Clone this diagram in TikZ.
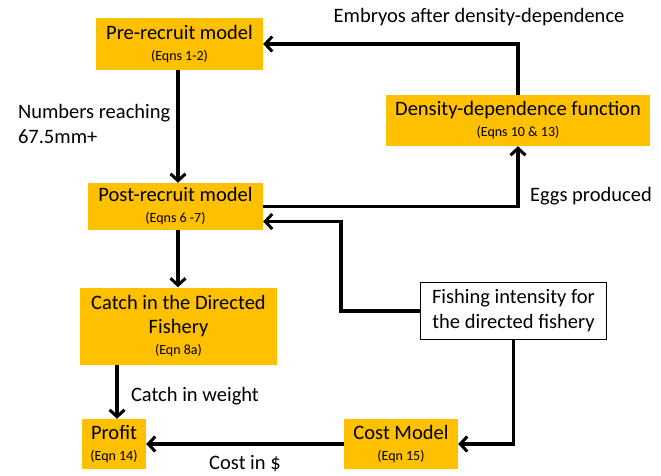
\documentclass[tikz,border=0pt]{standalone}
\usepackage{fontspec}
\setmainfont{Carlito}
\usetikzlibrary{
  arrows.meta,
  positioning,
  calc}
\definecolor{boxgold}{HTML}{FFC000}
\tikzset{every picture/.style={font issue=\fontsize{20.5}{25}},
         font issue/.style={execute at begin picture={#1\selectfont}}
        }
\tikzset{model/.style={fill=boxgold, align=center, inner sep=0pt},
         inputbox/.style={draw, fill=white, line width=0.8pt, align=center, inner sep=0pt},
         flow/.style={-{Straight Barb[length=7pt,width=15pt,line width=3pt]}, line width=3.2pt}
        }
\newcommand*\eqnref[1]{\\[-4pt]{\fontsize{14}{16}\selectfont #1}}

\begin{document}
\begin{tikzpicture}[x=1pt,y=-1pt]
\useasboundingbox (0,0) rectangle (661,475);
% boxes
\node[model, minimum width=167pt, minimum height=52pt] (prerecruit) at (179.5,44) {Pre-recruit model\eqnref{(Eqns 1-2)}};
\node[model, minimum width=264pt, minimum height=51pt] (densdep) at (518,120.5) {Density-dependence function\eqnref{(Eqns 10 \& 13)}};
\node[model, minimum width=175pt, minimum height=47pt] (postrecruit) at (175.5,206.5) {Post-recruit model\eqnref{(Eqns 6 -7)}};
\node[model, minimum width=197pt, minimum height=77pt] (catch) at (178.5,326) {Catch in the Directed\\[-1pt]Fishery\eqnref{(Eqn 8a)}};
\node[model, minimum width=64pt, minimum height=50pt] (profit) at (114,444) {Profit\eqnref{(Eqn 14)}};
\node[model, minimum width=114pt, minimum height=50pt] (costmodel) at (401,444) {Cost Model\eqnref{(Eqn 15)}};
\node[inputbox, minimum width=186pt, minimum height=57pt] (fishing) at (513.5,311) {Fishing intensity for\\the directed fishery};
% labels
\node (embryolbl) at (479,17) {Embryos after density-dependence};
\node[anchor=west, align=left] (numberslbl) at (11,124) {Numbers reaching\\67.5mm+};
\node[anchor=west] (eggslbl) at (523,196) {Eggs produced};
\node[anchor=west] (catchlbl) at (124,396) {Catch in weight};
\node (costlbl) at (245,464) {Cost in \$};
% connectors
\coordinate (elbow) at (341,311);
\draw[flow] (densdep.north) |- (prerecruit.east);
\draw[flow] (prerecruit.south -| 178,0) -- (postrecruit.north -| 178,0);
\draw[flow] (postrecruit.east) -| (densdep.south);
\draw[flow] (fishing.west) -- (elbow) |- ([yshift=-15pt]postrecruit.east);
\draw[flow] (postrecruit.south -| 178,0) -- (catch.north -| 178,0);
\draw[flow] (catch.south -| 117,0) -- (profit.north -| 117,0);
\draw[flow] (costmodel.west) -- (profit.east);
\draw[flow] (fishing.south) |- (costmodel.east);
\end{tikzpicture}
\end{document}
